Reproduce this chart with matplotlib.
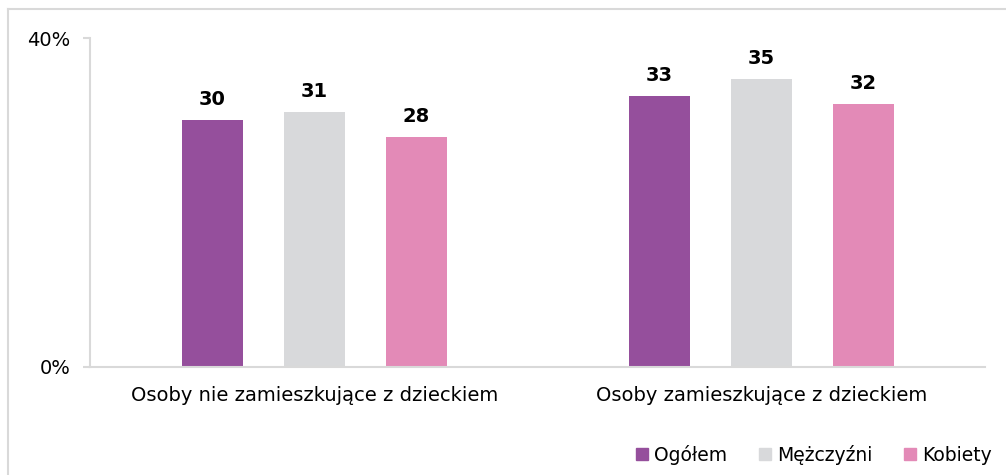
import numpy as np
import matplotlib.pyplot as plt
from matplotlib.lines import Line2D

categories = ['Osoby nie zamieszkujące z dzieckiem', 'Osoby zamieszkujące z dzieckiem']
series = ['Ogółem', 'Mężczyźni', 'Kobiety']
ogolem = [30, 33]
mezczyzni = [31, 35]
kobiety = [28, 32]
colors = ['#954F9C', '#D8D9DB', '#E38AB7']

plt.rcParams['font.family'] = ['DejaVu Sans']

fig = plt.figure(figsize=(10.06, 4.75), dpi=100)
ax = fig.add_axes([90 / 1006, 108 / 475, 895 / 1006, 329 / 475])

x = np.arange(len(categories))
width = 0.137
offsets = [-0.228, 0, 0.228]
for vals, off, c in zip([ogolem, mezczyzni, kobiety], offsets, colors):
    bars = ax.bar(x + off, vals, width, color=c)
    for b, v in zip(bars, vals):
        ax.text(b.get_x() + b.get_width() / 2, v + 2.5, str(v),
                ha='center', va='center', fontsize=14, fontweight='bold')

ax.set_ylim(0, 40)
ax.set_xlim(-0.502, 1.5)
ax.set_yticks([0, 40])
ax.set_yticklabels(['0%', '40%'], fontsize=14)
ax.set_xticks(x)
ax.set_xticklabels(categories, fontsize=14)
ax.tick_params(axis='x', length=0, pad=14)
ax.tick_params(axis='y', length=5, color='#D9D9D9', width=1.5, pad=9, direction='out')
for s in ['top', 'right']:
    ax.spines[s].set_visible(False)
for s in ['left', 'bottom']:
    ax.spines[s].set_color('#D9D9D9')
    ax.spines[s].set_linewidth(1.5)

handles = [Line2D([], [], marker='s', linestyle='none', markersize=8,
                  markerfacecolor=c, markeredgecolor=c) for c in colors]
fig.legend(handles, series, loc='center right', ncol=3, frameon=False,
           bbox_to_anchor=(992 / 1006, 20 / 475), fontsize=13.5,
           handletextpad=0.15, columnspacing=1.5, handlelength=1.0,
           borderpad=0, borderaxespad=0)

# outer frame: only the left and top edges fall inside the picture
fig.add_artist(Line2D([8 / 1006, 8 / 1006], [0, 1 - 9 / 475],
                      transform=fig.transFigure, color='#D9D9D9', linewidth=1.5))
fig.add_artist(Line2D([8 / 1006, 1], [1 - 9 / 475, 1 - 9 / 475],
                      transform=fig.transFigure, color='#D9D9D9', linewidth=1.5))

fig.savefig('out.png', dpi=100)
